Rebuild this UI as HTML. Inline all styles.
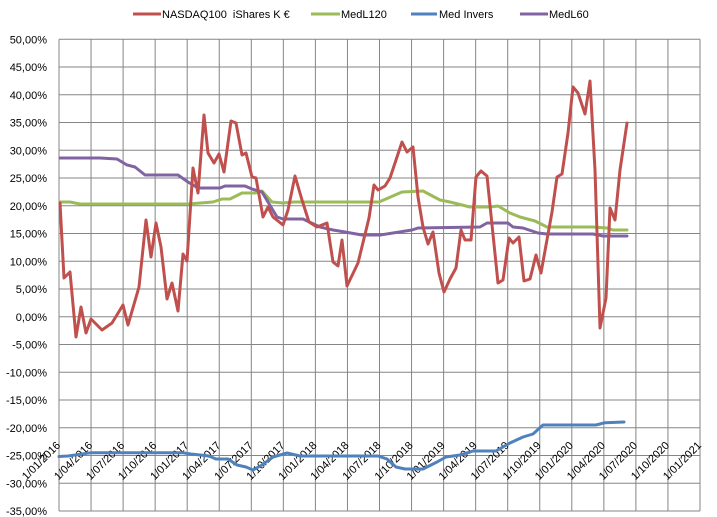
<!DOCTYPE html>
<html><head><meta charset="utf-8"><style>
html,body{margin:0;padding:0;background:#fff;}
svg{display:block;font-family:"Liberation Sans",sans-serif;font-size:11px;fill:#000;}
</style></head><body>
<svg width="717" height="517" viewBox="0 0 717 517" xmlns="http://www.w3.org/2000/svg">
<rect width="717" height="517" fill="#fff"/>
<g stroke="#868686" stroke-width="1" fill="none" id="grid"></g>
<g id="ylab" text-anchor="end"></g>
<g id="xlab"></g>
<g fill="none" stroke-width="3" stroke-linejoin="round" stroke-linecap="round">
<polyline stroke="#9BBB59" points="60,202 70,202 80,204 188,204 213,202 222,199 230,199 242,193 255,193 262,191 272,202 283,203 294,202 379,202 402,192 423,191 440,200 450,202 470,207 490,207 498,206 510,213 520,217 535,221 547,227 593,227 607,228 613,230 627,230"/>
<polyline stroke="#8064A2" points="60,158 100,158 117,159 127,165 135,167 145,175 178,175 188,182 198,188 220,188 225,186 245,186 252,189 262,192 268,202 277,217 283,219 303,219 320,227 333,230 345,232 362,235 380,235 412,230 418,228 480,227 487,223 508,223 513,227 523,228 538,233 547,234 593,234 603,236 627,236"/>
<polyline stroke="#4F81BD" points="59,456.5 68,456 91,452.7 182,452.7 191,454 209,456 216,459 228,459 237,465 246,467 253,470 262,465 273,457 287,453 300,456 378,456 387,459 396,467 405,469 423,469 437,462 446,457 460,455 473,451 496,451 510,443 523,437 533,434 543,425 596,425 605,422.7 624,422"/>
<polyline stroke="#C0504D" points="60,203 64,278 70,272 76,337 81,307 86,333 91,319 102,330 112,323 123,305 128,325 139,287 146,220 151,257 156,223 161,247 167,299 172,283 178,311 183,254 187,261 193,168 198,193 204,115 208,153 214,163 219,154 224,172 231,121 236,123 242,155 246,153 252,177 256,178 263,217 268,207 273,217 283,225 288,210 295,176 302,200 309,222 317,227 327,223 333,262 338,266 342,240 347,286 358,263 369,218 374,185 378,190 385,186 390,178 402,142 407,152 413,147 418,197 423,227 428,244 433,232 439,273 444,292 450,279 456,268 461,230 465,240 471,240 476,177 481,171 487,176 498,283 503,280 509,238 513,243 519,237 524,281 530,279 536,255 541,273 552,212 557,177 562,174 568,133 573,87 578,93 585,114 590,81 595,170 600,328 606,298 610,208 615,220 620,170 627,123"/>
</g>
<g stroke-width="3">
<line x1="133" y1="14" x2="161" y2="14" stroke="#C0504D"/>
<line x1="311" y1="14" x2="340" y2="14" stroke="#9BBB59"/>
<line x1="411" y1="14" x2="437" y2="14" stroke="#4F81BD"/>
<line x1="520" y1="14" x2="548" y2="14" stroke="#8064A2"/>
</g>
<text x="162" y="18" xml:space="preserve">NASDAQ100  iShares K €</text>
<text x="341" y="18">MedL120</text>
<text x="439" y="18">Med Invers</text>
<text x="549" y="18">MedL60</text>
<script>
var ns="http://www.w3.org/2000/svg";
var g=document.getElementById('grid'),yl=document.getElementById('ylab'),xl=document.getElementById('xlab');
var L=59,R=700,T=39.3,dy=27.75,dx=(R-L)/20;
for(var i=0;i<=17;i++){var y=T+i*dy;var l=document.createElementNS(ns,'line');l.setAttribute('x1',L);l.setAttribute('x2',R);l.setAttribute('y1',y);l.setAttribute('y2',y);g.appendChild(l);
var v=50-5*i;var t=document.createElementNS(ns,'text');t.setAttribute('x',47);t.setAttribute('y',y+4);t.textContent=v.toFixed(2).replace('.',',')+'%';yl.appendChild(t);}
var mm=['01','04','07','10'];
for(var j=0;j<=20;j++){var x=L+j*dx;var l=document.createElementNS(ns,'line');l.setAttribute('x1',x);l.setAttribute('x2',x);l.setAttribute('y1',T);l.setAttribute('y2',T+17*dy);g.appendChild(l);
var t=document.createElementNS(ns,'text');t.setAttribute('text-anchor','end');t.setAttribute('transform','translate('+(x+2)+',446) rotate(-45)');t.textContent='1/'+mm[j%4]+'/'+(2016+Math.floor(j/4));xl.appendChild(t);}
</script>
</svg>
</body></html>
